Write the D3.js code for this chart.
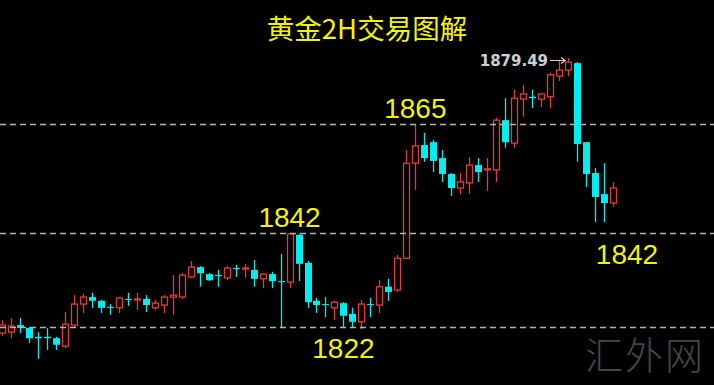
<!DOCTYPE html>
<html>
<head>
<meta charset="utf-8">
<script src="https://cdn.jsdelivr.net/npm/d3@7"></script>
<style>
  html, body { margin: 0; padding: 0; background: #000; }
  svg { display: block; }
</style>
</head>
<body>
<svg id="chart" width="714" height="385"></svg>
<script>
// 2H candles, oldest first
const opens = [1820.7, 1820.9, 1822.4, 1821.8, 1819.9, 1819.9, 1819.6, 1817.9, 1822.4, 1826.9,
  1828.4, 1827.6, 1826.3, 1826.1, 1828.0, 1827.8, 1828.0, 1826.1, 1826.7, 1828.4,
  1828.4, 1832.7, 1834.8, 1833.3, 1833.1, 1832.5, 1834.6, 1834.4, 1834.2, 1832.3,
  1833.3, 1831.8, 1831.6, 1841.7, 1835.7, 1827.6, 1826.9, 1826.1, 1827.1, 1824.8,
  1823.1, 1826.9, 1826.7, 1830.6, 1829.9, 1836.7, 1857.0, 1860.9, 1861.5, 1858.1,
  1854.7, 1851.7, 1852.8, 1856.6, 1855.6, 1855.6, 1866.2, 1861.3, 1870.7, 1871.2,
  1870.7, 1871.2, 1875.6, 1876.9, 1878.4, 1861.5, 1854.9, 1850.4, 1848.5];
const highs = [1823.5, 1823.9, 1823.9, 1822.0, 1820.9, 1821.8, 1819.9, 1825.2, 1828.8, 1829.1,
  1829.3, 1827.8, 1826.9, 1828.4, 1829.3, 1829.3, 1828.8, 1827.8, 1828.8, 1833.1,
  1833.5, 1836.1, 1835.0, 1833.5, 1834.2, 1835.0, 1835.3, 1835.5, 1836.3, 1833.5,
  1833.8, 1837.6, 1842.1, 1841.9, 1836.1, 1828.2, 1828.4, 1827.6, 1827.3, 1826.1,
  1827.8, 1828.2, 1832.0, 1832.3, 1837.4, 1859.8, 1865.2, 1863.5, 1862.0, 1859.8,
  1854.9, 1854.9, 1858.3, 1858.1, 1858.1, 1866.7, 1870.9, 1872.7, 1873.7, 1872.7,
  1871.8, 1876.3, 1879.1, 1879.49, 1878.6, 1861.5, 1856.0, 1857.0, 1853.0];
const lows = [1820.1, 1819.6, 1820.7, 1818.6, 1815.2, 1817.1, 1817.1, 1817.5, 1822.0, 1825.0,
  1826.1, 1825.0, 1824.6, 1825.0, 1826.5, 1825.6, 1825.2, 1825.6, 1825.0, 1824.6,
  1828.0, 1832.5, 1830.6, 1831.8, 1830.6, 1832.0, 1832.7, 1832.5, 1830.6, 1830.3,
  1830.3, 1821.8, 1830.3, 1831.8, 1826.1, 1825.0, 1824.1, 1823.5, 1822.0, 1821.8,
  1821.6, 1824.1, 1825.0, 1827.6, 1829.5, 1836.7, 1851.3, 1857.3, 1855.1, 1853.0,
  1850.0, 1850.4, 1850.4, 1853.0, 1851.1, 1853.0, 1860.3, 1860.3, 1866.9, 1868.8,
  1869.0, 1868.8, 1874.6, 1875.6, 1857.3, 1851.9, 1844.4, 1844.4, 1847.7];
const closes = [1822.4, 1822.2, 1821.8, 1819.6, 1819.6, 1819.6, 1818.2, 1822.6, 1826.9, 1828.4,
  1827.6, 1826.1, 1826.1, 1828.2, 1827.8, 1828.0, 1826.7, 1827.1, 1828.4, 1828.8,
  1833.1, 1834.8, 1833.5, 1832.0, 1832.9, 1834.6, 1834.4, 1834.6, 1832.3, 1833.3,
  1831.8, 1831.6, 1841.9, 1835.5, 1827.3, 1826.7, 1826.7, 1827.3, 1824.4, 1823.1,
  1826.9, 1826.7, 1830.6, 1829.5, 1836.7, 1857.0, 1860.7, 1858.1, 1857.5, 1854.7,
  1851.7, 1853.0, 1856.6, 1855.1, 1855.8, 1866.2, 1861.5, 1870.9, 1871.8, 1870.9,
  1871.8, 1875.9, 1876.9, 1878.6, 1861.1, 1854.7, 1849.8, 1848.5, 1851.7];

const levels = [1865.4, 1842, 1822];
const levelLabels = [
  { text: '1865', bar: 46, level: 0 },
  { text: '1842', bar: 32, level: 1 },
  { text: '1822', bar: 38, level: 2, below: true },
  { text: '1842', bar: 68, level: 1, below: true, dx: 14 }
];
const title = '黄金2H交易图解';
const highLabel = '1879.49';
const watermark = '汇外网';

const width = 714, height = 385;
const upColor = '#e63a34', downColor = '#00eef0', yellow = '#f4f400';

const svg = d3.select('#chart');
svg.append('rect').attr('width', width).attr('height', height).attr('fill', '#000');

const candles = opens.map((o, i) => ({ i, o, h: highs[i], l: lows[i], c: closes[i] }));

const x = d3.scaleLinear().domain([0, candles.length - 1]).range([2, 613]);
const y = d3.scaleLinear().domain([1822, 1879.49]).range([327, 58]);
const bodyW = 6;

// watermark
svg.append('text')
  .attr('x', 645).attr('y', 369)
  .attr('text-anchor', 'middle')
  .attr('font-family', '"Noto Sans CJK SC", sans-serif')
  .attr('font-weight', 300)
  .attr('font-size', 38)
  .attr('fill', '#474747')
  .attr('letter-spacing', 2)
  .text(watermark);

const g = svg.append('g');

candles.forEach(d => {
  const cx = Math.round(x(d.i)) + 0.5;
  const up = d.c >= d.o;
  const col = up ? upColor : downColor;
  const top = y(Math.max(d.o, d.c));
  const bot = y(Math.min(d.o, d.c));
  const bh = Math.max(1, bot - top);
  if (up) {
    // hollow body, wicks stop at the body edges
    g.append('line').attr('x1', cx).attr('x2', cx).attr('y1', y(d.h)).attr('y2', top)
      .attr('stroke', col).attr('stroke-width', 1.3);
    g.append('line').attr('x1', cx).attr('x2', cx).attr('y1', top + bh).attr('y2', y(d.l))
      .attr('stroke', col).attr('stroke-width', 1.3);
    g.append('rect')
      .attr('x', cx - bodyW / 2).attr('y', top)
      .attr('width', bodyW).attr('height', bh)
      .attr('fill', '#000').attr('stroke', col).attr('stroke-width', 1.3);
  } else {
    g.append('line').attr('x1', cx).attr('x2', cx).attr('y1', y(d.h)).attr('y2', y(d.l))
      .attr('stroke', col).attr('stroke-width', 1.3);
    g.append('rect')
      .attr('x', cx - bodyW / 2 - 0.5).attr('y', top)
      .attr('width', bodyW + 1).attr('height', bh)
      .attr('fill', col);
  }
});

// dashed levels
svg.selectAll('line.level')
  .data(levels)
  .join('line')
  .attr('class', 'level')
  .attr('x1', 0).attr('x2', width)
  .attr('y1', d => Math.round(y(d)) + 0.5).attr('y2', d => Math.round(y(d)) + 0.5)
  .attr('stroke', '#b4b4b4')
  .attr('stroke-width', 1.5)
  .attr('stroke-dasharray', '6,4');

// level labels
svg.selectAll('text.lvl')
  .data(levelLabels)
  .join('text')
  .attr('class', 'lvl')
  .attr('x', d => x(d.bar) + (d.dx || 0))
  .attr('y', d => d.below ? y(levels[d.level]) + 31 : y(levels[d.level]) - 6)
  .attr('text-anchor', 'middle')
  .attr('font-family', '"Liberation Sans", Arial, sans-serif')
  .attr('font-size', 28)
  .attr('fill', yellow)
  .text(d => d.text);

// highest price marker
const hiIdx = d3.maxIndex(highs);
const hx = x(hiIdx), hy = y(highs[hiIdx]);
svg.append('text')
  .attr('x', hx - 20).attr('y', hy + 8)
  .attr('text-anchor', 'end')
  .attr('font-family', '"DejaVu Sans", sans-serif')
  .attr('font-weight', 'bold')
  .attr('font-size', 15)
  .attr('fill', '#cfcfcf')
  .text(highLabel);
svg.append('path')
  .attr('d', `M${hx - 18},${hy + 2.5}H${hx - 3}M${hx - 7},${hy - 0.5}L${hx - 3},${hy + 2.5}L${hx - 7},${hy + 5.5}`)
  .attr('fill', 'none')
  .attr('stroke', '#cfcfcf')
  .attr('stroke-width', 1.2);

// title
svg.append('text')
  .attr('x', width / 2 + 10).attr('y', 39)
  .attr('text-anchor', 'middle')
  .attr('font-family', '"Noto Sans CJK SC", sans-serif')
  .attr('font-size', 27.5)
  .attr('fill', yellow)
  .text(title);
</script>
</body>
</html>
